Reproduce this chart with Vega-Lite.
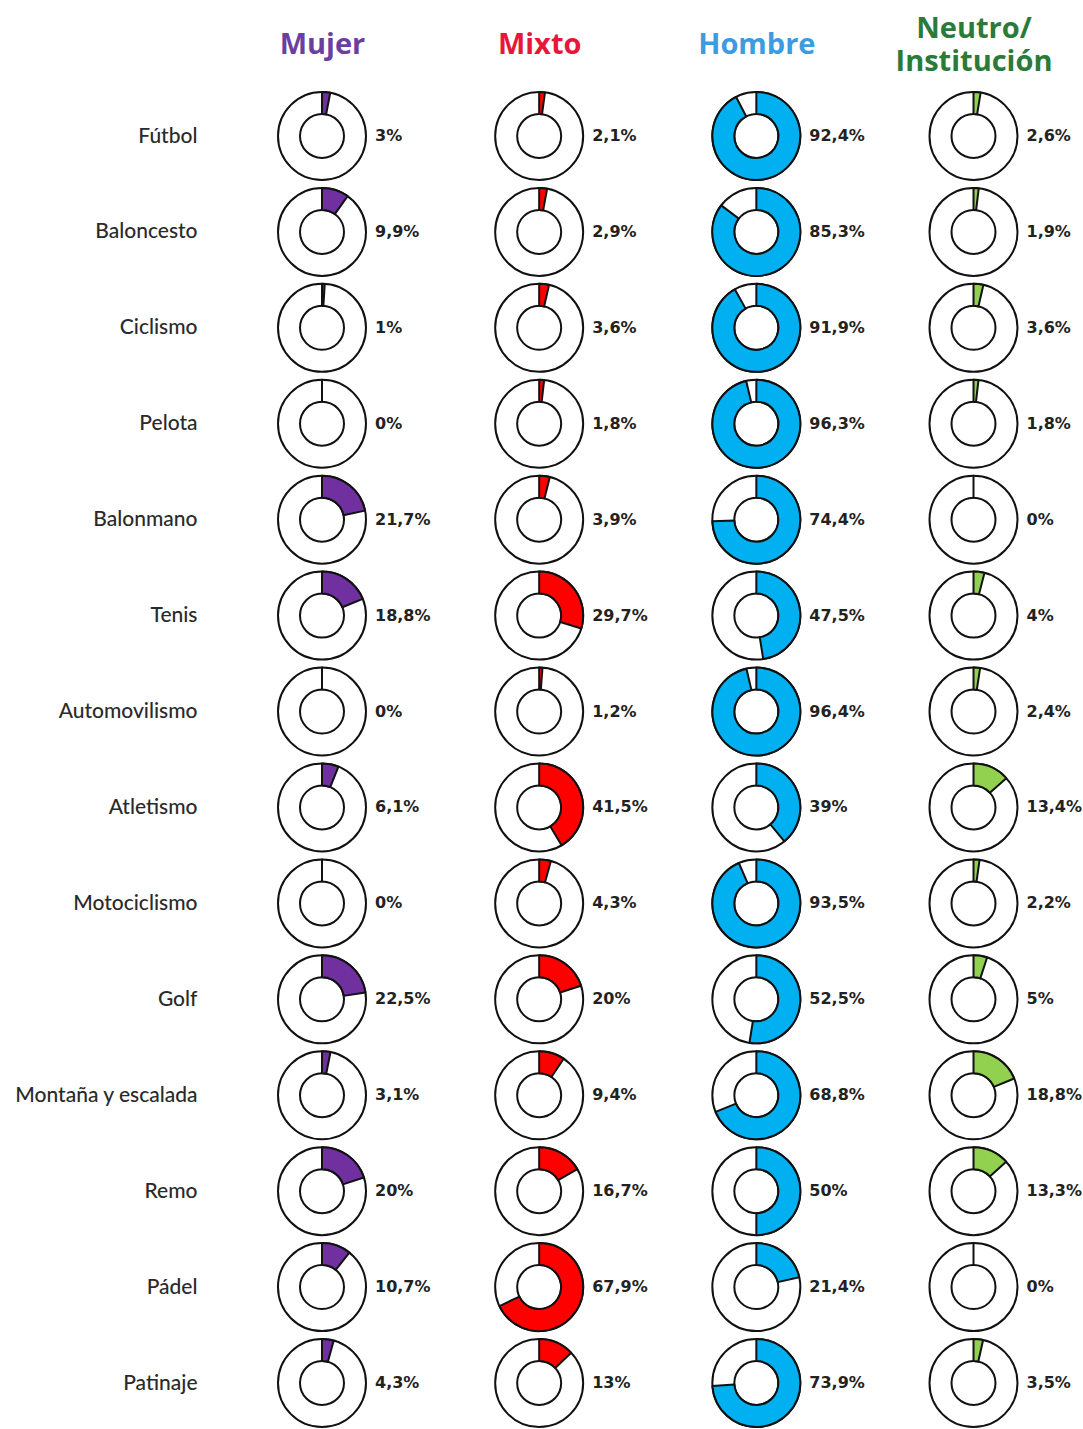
{
  "$schema": "https://vega.github.io/schema/vega-lite/v6.json",
  "autosize": {"type": "none"},
  "padding": {"left": 200, "top": 90, "right": 0, "bottom": 0},
  "width": 883,
  "height": 1339,
  "background": "#ffffff",
  "data": {
    "values": [
      {"d": "Fútbol", "g": "Mujer", "p": 3, "l": "3%"},
      {"d": "Fútbol", "g": "Mixto", "p": 2.1, "l": "2,1%"},
      {"d": "Fútbol", "g": "Hombre", "p": 92.4, "l": "92,4%"},
      {"d": "Fútbol", "g": "Neutro", "p": 2.6, "l": "2,6%"},
      {"d": "Baloncesto", "g": "Mujer", "p": 9.9, "l": "9,9%"},
      {"d": "Baloncesto", "g": "Mixto", "p": 2.9, "l": "2,9%"},
      {"d": "Baloncesto", "g": "Hombre", "p": 85.3, "l": "85,3%"},
      {"d": "Baloncesto", "g": "Neutro", "p": 1.9, "l": "1,9%"},
      {"d": "Ciclismo", "g": "Mujer", "p": 1, "l": "1%"},
      {"d": "Ciclismo", "g": "Mixto", "p": 3.6, "l": "3,6%"},
      {"d": "Ciclismo", "g": "Hombre", "p": 91.9, "l": "91,9%"},
      {"d": "Ciclismo", "g": "Neutro", "p": 3.6, "l": "3,6%"},
      {"d": "Pelota", "g": "Mujer", "p": 0, "l": "0%"},
      {"d": "Pelota", "g": "Mixto", "p": 1.8, "l": "1,8%"},
      {"d": "Pelota", "g": "Hombre", "p": 96.3, "l": "96,3%"},
      {"d": "Pelota", "g": "Neutro", "p": 1.8, "l": "1,8%"},
      {"d": "Balonmano", "g": "Mujer", "p": 21.7, "l": "21,7%"},
      {"d": "Balonmano", "g": "Mixto", "p": 3.9, "l": "3,9%"},
      {"d": "Balonmano", "g": "Hombre", "p": 74.4, "l": "74,4%"},
      {"d": "Balonmano", "g": "Neutro", "p": 0, "l": "0%"},
      {"d": "Tenis", "g": "Mujer", "p": 18.8, "l": "18,8%"},
      {"d": "Tenis", "g": "Mixto", "p": 29.7, "l": "29,7%"},
      {"d": "Tenis", "g": "Hombre", "p": 47.5, "l": "47,5%"},
      {"d": "Tenis", "g": "Neutro", "p": 4, "l": "4%"},
      {"d": "Automovilismo", "g": "Mujer", "p": 0, "l": "0%"},
      {"d": "Automovilismo", "g": "Mixto", "p": 1.2, "l": "1,2%"},
      {"d": "Automovilismo", "g": "Hombre", "p": 96.4, "l": "96,4%"},
      {"d": "Automovilismo", "g": "Neutro", "p": 2.4, "l": "2,4%"},
      {"d": "Atletismo", "g": "Mujer", "p": 6.1, "l": "6,1%"},
      {"d": "Atletismo", "g": "Mixto", "p": 41.5, "l": "41,5%"},
      {"d": "Atletismo", "g": "Hombre", "p": 39, "l": "39%"},
      {"d": "Atletismo", "g": "Neutro", "p": 13.4, "l": "13,4%"},
      {"d": "Motociclismo", "g": "Mujer", "p": 0, "l": "0%"},
      {"d": "Motociclismo", "g": "Mixto", "p": 4.3, "l": "4,3%"},
      {"d": "Motociclismo", "g": "Hombre", "p": 93.5, "l": "93,5%"},
      {"d": "Motociclismo", "g": "Neutro", "p": 2.2, "l": "2,2%"},
      {"d": "Golf", "g": "Mujer", "p": 22.5, "l": "22,5%"},
      {"d": "Golf", "g": "Mixto", "p": 20, "l": "20%"},
      {"d": "Golf", "g": "Hombre", "p": 52.5, "l": "52,5%"},
      {"d": "Golf", "g": "Neutro", "p": 5, "l": "5%"},
      {"d": "Montaña y escalada", "g": "Mujer", "p": 3.1, "l": "3,1%"},
      {"d": "Montaña y escalada", "g": "Mixto", "p": 9.4, "l": "9,4%"},
      {"d": "Montaña y escalada", "g": "Hombre", "p": 68.8, "l": "68,8%"},
      {"d": "Montaña y escalada", "g": "Neutro", "p": 18.8, "l": "18,8%"},
      {"d": "Remo", "g": "Mujer", "p": 20, "l": "20%"},
      {"d": "Remo", "g": "Mixto", "p": 16.7, "l": "16,7%"},
      {"d": "Remo", "g": "Hombre", "p": 50, "l": "50%"},
      {"d": "Remo", "g": "Neutro", "p": 13.3, "l": "13,3%"},
      {"d": "Pádel", "g": "Mujer", "p": 10.7, "l": "10,7%"},
      {"d": "Pádel", "g": "Mixto", "p": 67.9, "l": "67,9%"},
      {"d": "Pádel", "g": "Hombre", "p": 21.4, "l": "21,4%"},
      {"d": "Pádel", "g": "Neutro", "p": 0, "l": "0%"},
      {"d": "Patinaje", "g": "Mujer", "p": 4.3, "l": "4,3%"},
      {"d": "Patinaje", "g": "Mixto", "p": 13, "l": "13%"},
      {"d": "Patinaje", "g": "Hombre", "p": 73.9, "l": "73,9%"},
      {"d": "Patinaje", "g": "Neutro", "p": 3.5, "l": "3,5%"}
    ]
  },
  "encoding": {
    "x": {
      "field": "g",
      "type": "nominal",
      "scale": {"type": "point", "domain": ["Mujer", "Mixto", "Hombre", "Neutro"], "range": [122, 773.5], "padding": 0},
      "axis": {
        "orient": "top",
        "title": null,
        "domain": false,
        "ticks": false,
        "tickSize": 0,
        "grid": false,
        "labelPadding": {"condition": {"test": "datum.value === 'Neutro'", "value": 62}, "value": 46},
        "labelAngle": 0,
        "labelBaseline": "middle",
        "labelFont": "Open Sans",
        "labelFontWeight": "bold",
        "labelFontSize": 29,
        "labelLineHeight": 33,
        "labelOverlap": false,
        "labelLimit": 400,
        "labelExpr": "datum.value === 'Neutro' ? ['Neutro/', 'Institución'] : datum.value",
        "labelColor": {
          "condition": [
            {"test": "datum.value === 'Mujer'", "value": "#6a3fa0"},
            {"test": "datum.value === 'Mixto'", "value": "#e8173a"},
            {"test": "datum.value === 'Hombre'", "value": "#3d9be0"}
          ],
          "value": "#2a7a3a"
        }
      }
    },
    "y": {
      "field": "d",
      "type": "nominal",
      "scale": {"type": "point", "domain": ["Fútbol", "Baloncesto", "Ciclismo", "Pelota", "Balonmano", "Tenis", "Automovilismo", "Atletismo", "Motociclismo", "Golf", "Montaña y escalada", "Remo", "Pádel", "Patinaje"], "range": [46, 1293], "padding": 0},
      "axis": {
        "title": null,
        "domain": false,
        "ticks": false,
        "tickSize": 0,
        "grid": false,
        "labelPadding": 3,
        "labelFont": "Lato",
        "labelFontSize": 21,
        "labelColor": "#2a2a2a",
        "labelFontWeight": 500,
        "labelOverlap": false,
        "labelLimit": 400
      }
    }
  },
  "layer": [
    {
      "mark": {"type": "arc", "theta": 0, "theta2": 6.2832, "radius": 44, "radius2": 22, "fill": "#ffffff", "stroke": "#111111", "strokeWidth": 2}
    },
    {
      "mark": {"type": "arc", "radius": 44, "radius2": 22, "stroke": "#111111", "strokeWidth": 2, "strokeJoin": "round"},
      "encoding": {
        "theta": {"field": "p", "type": "quantitative", "stack": null, "scale": {"type": "linear", "domain": [0, 100], "range": [0, 6.2832], "zero": true}},
        "theta2": {"value": 0},
        "color": {
          "field": "g",
          "type": "nominal",
          "scale": {"domain": ["Mujer", "Mixto", "Hombre", "Neutro"], "range": ["#7030a0", "#ff0000", "#00b0f0", "#92d050"]},
          "legend": null
        }
      }
    },
    {
      "mark": {"type": "text", "align": "left", "baseline": "middle", "dx": 53, "font": "DejaVu Sans", "fontWeight": "bold", "fontSize": 16, "fill": "#222222"},
      "encoding": {"text": {"field": "l", "type": "nominal"}}
    }
  ],
  "config": {"view": {"stroke": null}}
}
